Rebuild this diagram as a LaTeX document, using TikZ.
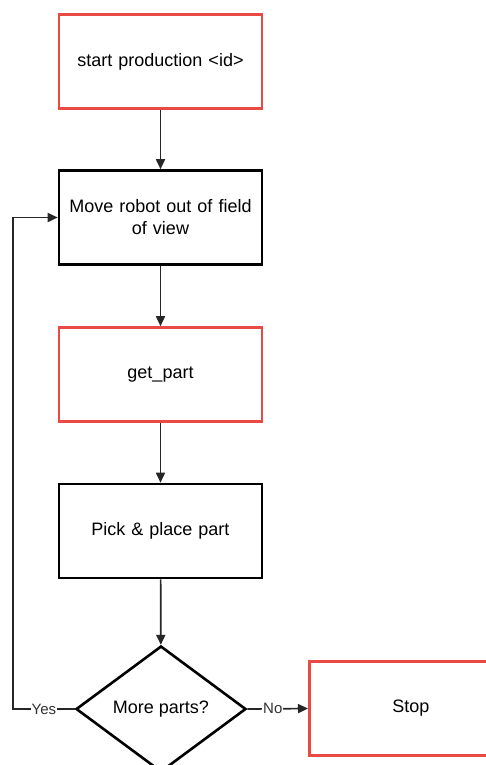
\documentclass[tikz,border=0pt]{standalone}
\usepackage{fontspec}
\setmainfont{Liberation Sans}
\usetikzlibrary{shapes.geometric,arrows.meta}
\definecolor{redline}{HTML}{EA4A44}
\tikzset{
  x=1pt,y=1pt,
  box/.style={draw, line width=2.6pt, minimum width=203pt, minimum height=94pt, inner sep=0pt, align=center, text width=195pt, font=\fontsize{18}{22}\selectfont, fill=white},
  redbox/.style={box, draw=redline},
  blackbox/.style={box, draw=black},
  decision/.style={diamond, draw, line width=2.6pt, minimum width=170pt, minimum height=126pt, aspect=1.35, inner sep=0pt, font=\fontsize{18}{22}\selectfont, fill=white},
  conn/.style={draw=black!85, line width=1.7pt, -{Triangle[length=10pt,width=9pt]}},
  lbl/.style={fill=white, inner sep=1pt, font=\fontsize{15}{17}\selectfont, text=black!80}
}
\begin{document}
\begin{tikzpicture}
\useasboundingbox (0,0) rectangle (486,-765);
\clip (0,0) rectangle (486,-765);
\node[redbox] (start) at (160.5,-61.5) {start production <id>};
\node[blackbox] (move) at (160.5,-217.5) {Move robot out of field\\of view};
\node[redbox] (get) at (160.5,-374.5) {get\_part};
\node[blackbox] (pick) at (160.5,-531) {Pick \& place part};
\node[decision] (more) at (161,-709) {More parts?};
\node[redbox, anchor=west] (stop) at (308,-708.5) {Stop};
\coordinate (loopA) at (13,-709);
\coordinate (loopB) at (13,-217.5);
\draw[conn] (start) -- (move);
\draw[conn] (move) -- (get);
\draw[conn] (get) -- (pick);
\draw[conn] (pick) -- (more);
\draw[conn] (more.west) -- node[lbl, pos=0.5]{Yes} (loopA) -- (loopB) -- (move.west);
\draw[conn] (more.east) -- node[lbl, pos=0.42]{No} (stop.west);
\end{tikzpicture}
\end{document}
